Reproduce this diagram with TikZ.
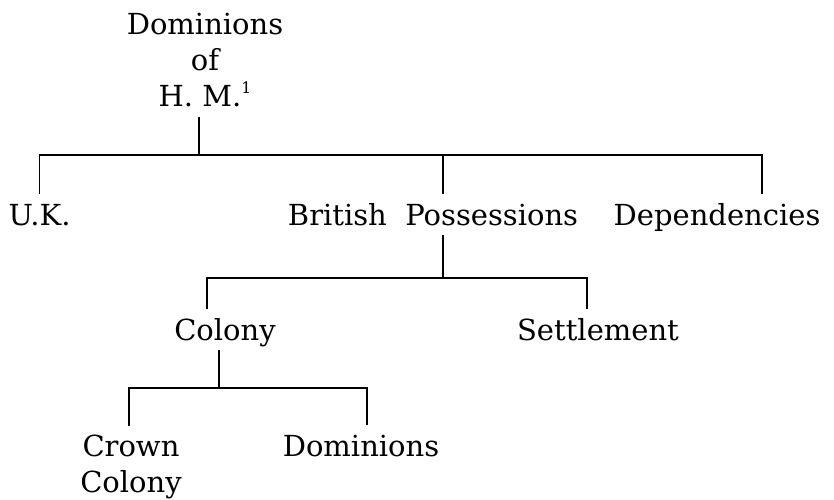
\documentclass[tikz,border=0pt]{standalone}
\usepackage{fontspec}
\setmainfont{DejaVu Serif}
\usepackage{tikz}
\usetikzlibrary{positioning,calc}

\begin{document}
\begin{tikzpicture}[scale=1, line width=0.6pt,
    term/.style={font=\fontsize{16.5}{20.5}\selectfont, inner sep=5pt, text height=13pt, text depth=0pt},
    multi/.style={font=\fontsize{16.5}{20.5}\selectfont, inner sep=5pt, align=center}]
    \useasboundingbox (0,0) rectangle (16.68,10);

    % Root
    \node[multi, anchor=base] (root) at (4.1,7.86) {Dominions\\of\\H.~M.\raisebox{0.9ex}{\fontsize{9}{9}\selectfont 1}};

    % First level
    \node[term, anchor=base] (uk) at (0.79,5.48) {U.K.};
    \node[term, anchor=base] (bp) at (8.66,5.48) {British~~Possessions};
    \node[term, anchor=base] (dep) at (14.34,5.48) {Dependencies};

    % Second level
    \node[term, anchor=base] (colony) at (4.5,3.18) {Colony};
    \node[term, anchor=base] (settle) at (11.96,3.18) {Settlement};

    % Third level
    \node[multi, anchor=base] (crown) at (2.62,0.14) {Crown\\Colony};
    \node[term, anchor=base] (dom) at (7.22,0.86) {Dominions};

    % Junctions
    \coordinate (top) at (3.98,6.9);
    \coordinate (topR) at (15.24,6.9);
    \coordinate (bpx) at (8.86,6.9);
    \coordinate (mid) at (8.86,4.44);
    \coordinate (midL) at (4.14,4.44);
    \coordinate (midR) at (11.74,4.44);
    \coordinate (low) at (4.38,2.24);
    \coordinate (lowL) at (2.58,2.24);
    \coordinate (lowR) at (7.34,2.24);

    % Root to first level
    \draw (root.south -| top) -- (top);
    \draw (uk.north) |- (topR) -- (topR |- dep.north);
    \draw (bpx) -- (bpx |- bp.north);

    % Possessions
    \draw (bp.south -| mid) -- (mid);
    \draw (midL |- colony.north) -- (midL) -- (midR) -- (midR |- settle.north);

    % Colony
    \draw (colony.south -| low) -- (low);
    \draw (lowL |- crown.north) -- (lowL) -- (lowR) -- (lowR |- dom.north);
\end{tikzpicture}
\end{document}
